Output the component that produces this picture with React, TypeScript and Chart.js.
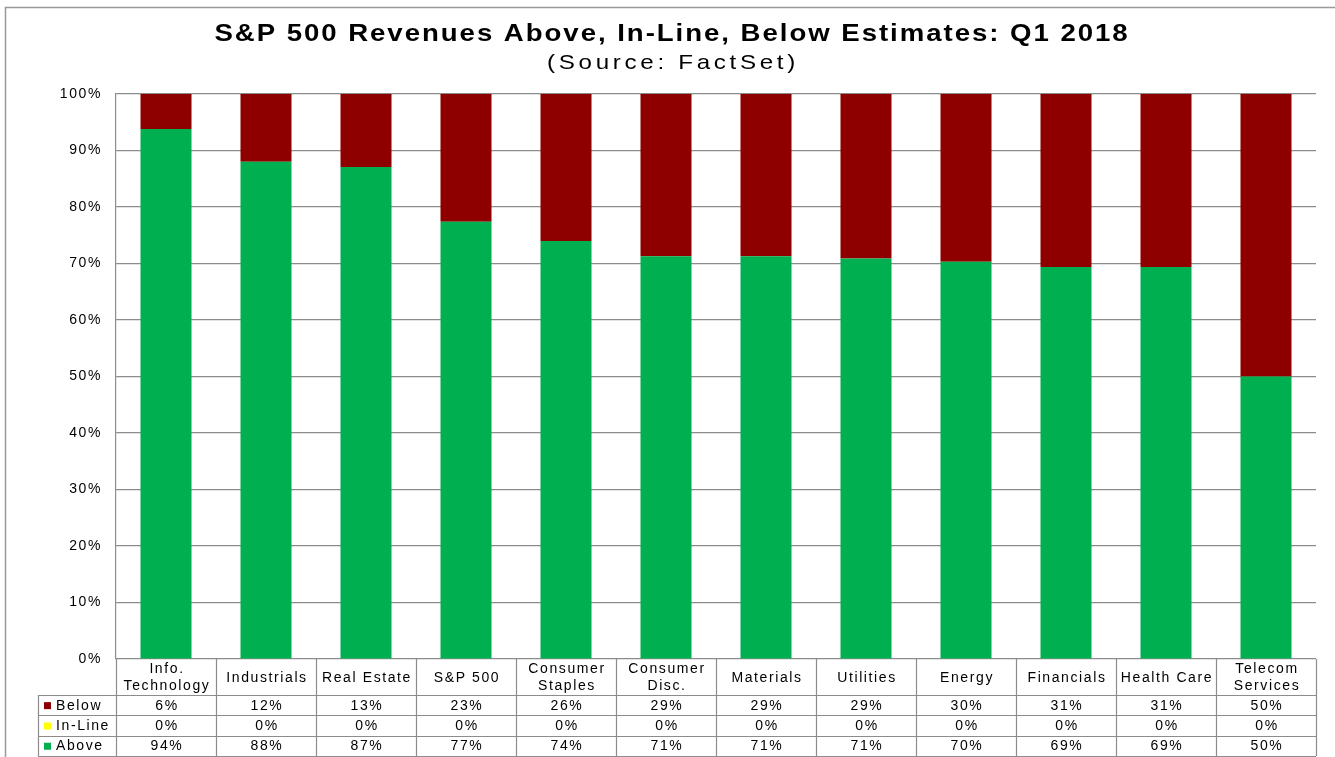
import React, { useEffect, useRef } from "react";
import { Chart, registerables } from "chart.js";

Chart.register(...registerables);

const categories: string[][] = [
  ["Info.", "Technology"],
  ["Industrials"],
  ["Real Estate"],
  ["S&P 500"],
  ["Consumer", "Staples"],
  ["Consumer", "Disc."],
  ["Materials"],
  ["Utilities"],
  ["Energy"],
  ["Financials"],
  ["Health Care"],
  ["Telecom", "Services"],
];

const belowValues = [6.2, 12.0, 12.9, 22.6, 26.0, 28.7, 28.7, 29.1, 29.7, 30.6, 30.6, 50.0];
const inLineValues = [0, 0, 0, 0, 0, 0, 0, 0, 0, 0, 0, 0];
const aboveValues = [93.8, 88.0, 87.1, 77.4, 74.0, 71.3, 71.3, 70.9, 70.3, 69.4, 69.4, 50.0];

const yTicks = [0, 10, 20, 30, 40, 50, 60, 70, 80, 90, 100];

const titleText = "S&P 500 Revenues Above, In-Line, Below Estimates: Q1 2018";
const subtitleText = "(Source: FactSet)";

const COLOR_BELOW = "#8E0000";
const COLOR_INLINE = "#FFFF00";
const COLOR_ABOVE = "#00B050";
const GRID = "#8c8c8c";
const FONT = "'Liberation Sans', Arial, sans-serif";

const spacingPlugin = {
  id: "spacingPlugin",
  beforeDraw(chart: any) {
    (chart.ctx as any).letterSpacing = "1.6px";
  },
  afterDraw(chart: any) {
    (chart.ctx as any).letterSpacing = "0px";
  },
};

function stretchedText(
  ctx: CanvasRenderingContext2D & { letterSpacing: string },
  text: string,
  cx: number,
  cy: number,
  sx: number,
  spacing: string
) {
  ctx.save();
  ctx.translate(cx, cy);
  ctx.scale(sx, 1);
  ctx.letterSpacing = spacing;
  ctx.fillText(text, 0, 0);
  ctx.restore();
}

const tablePlugin = {
  id: "tablePlugin",
  afterDraw(chart: any) {
    const ctx = chart.ctx as CanvasRenderingContext2D & { letterSpacing: string };
    const x = chart.scales.x;
    const area = chart.chartArea;
    const n = categories.length;
    const colW = (area.right - area.left) / n;
    const top = area.bottom;
    const headerBottom = top + 36;
    const rowH = 20.3;
    const legendLeft = 38;
    ctx.save();

    // outer border
    ctx.strokeStyle = "#999";
    ctx.lineWidth = 1.5;
    ctx.strokeRect(5.5, 7.5, 1340, 760);

    // title
    ctx.fillStyle = "#000";
    ctx.textAlign = "center";
    ctx.textBaseline = "middle";
    ctx.font = `bold 24px ${FONT}`;
    stretchedText(ctx, titleText, 672, 34, 1.15, "1.7px");
    ctx.font = `21px ${FONT}`;
    stretchedText(ctx, subtitleText, 673, 63, 1.15, "3.2px");

    // table lines
    ctx.letterSpacing = "1.6px";
    ctx.strokeStyle = GRID;
    ctx.lineWidth = 1.2;
    ctx.beginPath();
    for (let i = 0; i <= n; i++) {
      const px = Math.round(area.left + colW * i) + 0.5;
      ctx.moveTo(px, top);
      ctx.lineTo(px, headerBottom + rowH * 3);
    }
    ctx.moveTo(legendLeft + 0.5, headerBottom);
    ctx.lineTo(legendLeft + 0.5, headerBottom + rowH * 3);
    for (let r = 0; r <= 3; r++) {
      const py = Math.round(headerBottom + rowH * r) + 0.5;
      ctx.moveTo(legendLeft, py);
      ctx.lineTo(area.right, py);
    }
    ctx.stroke();

    // header labels
    ctx.fillStyle = "#000";
    ctx.font = `14px ${FONT}`;
    ctx.textAlign = "center";
    ctx.textBaseline = "middle";
    categories.forEach((lines, i) => {
      const cx = x.getPixelForValue(i) + 1;
      const cy = (top + headerBottom) / 2;
      if (lines.length === 1) {
        ctx.fillText(lines[0], cx, cy + 1);
      } else {
        ctx.fillText(lines[0], cx, cy - 8);
        ctx.fillText(lines[1], cx, cy + 9);
      }
    });

    // rows
    const rows = [
      { label: "Below", color: COLOR_BELOW, values: belowValues },
      { label: "In-Line", color: COLOR_INLINE, values: inLineValues },
      { label: "Above", color: COLOR_ABOVE, values: aboveValues },
    ];
    rows.forEach((row, r) => {
      const cy = headerBottom + rowH * r + rowH / 2 + 0.5;
      ctx.fillStyle = row.color;
      ctx.fillRect(44, cy - 3.5, 7, 7);
      ctx.fillStyle = "#000";
      ctx.textAlign = "left";
      ctx.font = `14px ${FONT}`;
      ctx.fillText(row.label, 56, cy);
      ctx.textAlign = "center";
      row.values.forEach((v, i) => {
        ctx.fillText(`${Math.round(v)}%`, x.getPixelForValue(i) + 1, cy);
      });
    });
    ctx.restore();
  },
};

export default function App() {
  const ref = useRef<HTMLCanvasElement | null>(null);
  useEffect(() => {
    document.body.style.margin = "0";
    if (!ref.current) return;
    const chart = new Chart(ref.current, {
      type: "bar",
      data: {
        labels: categories.map((c) => c.join(" ")),
        datasets: [
          { label: "Above", data: aboveValues, backgroundColor: COLOR_ABOVE, borderWidth: 0 },
          { label: "In-Line", data: inLineValues, backgroundColor: COLOR_INLINE, borderWidth: 0 },
          { label: "Below", data: belowValues, backgroundColor: COLOR_BELOW, borderWidth: 0 },
        ],
      },
      options: {
        animation: false,
        responsive: false,
        devicePixelRatio: 1,
        layout: { padding: { left: 0, right: 19, top: 94, bottom: 98 } },
        datasets: { bar: { barPercentage: 0.51, categoryPercentage: 1 } },
        plugins: {
          legend: { display: false },
          title: { display: false },
          tooltip: { enabled: false },
        },
        scales: {
          x: {
            stacked: true,
            display: false,
            grid: { display: false },
          },
          y: {
            stacked: true,
            min: 0,
            max: 100,
            afterFit(scale: any) {
              scale.width = 116;
            },
            afterBuildTicks(scale: any) {
              scale.ticks = yTicks.map((v) => ({ value: v }));
            },
            ticks: {
              padding: 14,
              color: "#000",
              font: { family: FONT, size: 14 },
              callback: (v: any) => `${v}%`,
            },
            grid: { color: GRID, lineWidth: 1.2, drawTicks: false },
            border: { display: true, color: GRID, width: 1.2 },
          },
        },
      },
      plugins: [spacingPlugin, tablePlugin],
    });
    return () => chart.destroy();
  }, []);
  return (
    <div style={{ width: 1335, height: 757, position: "relative" }}>
      <canvas ref={ref} width={1335} height={757} style={{ display: "block" }} />
    </div>
  );
}
